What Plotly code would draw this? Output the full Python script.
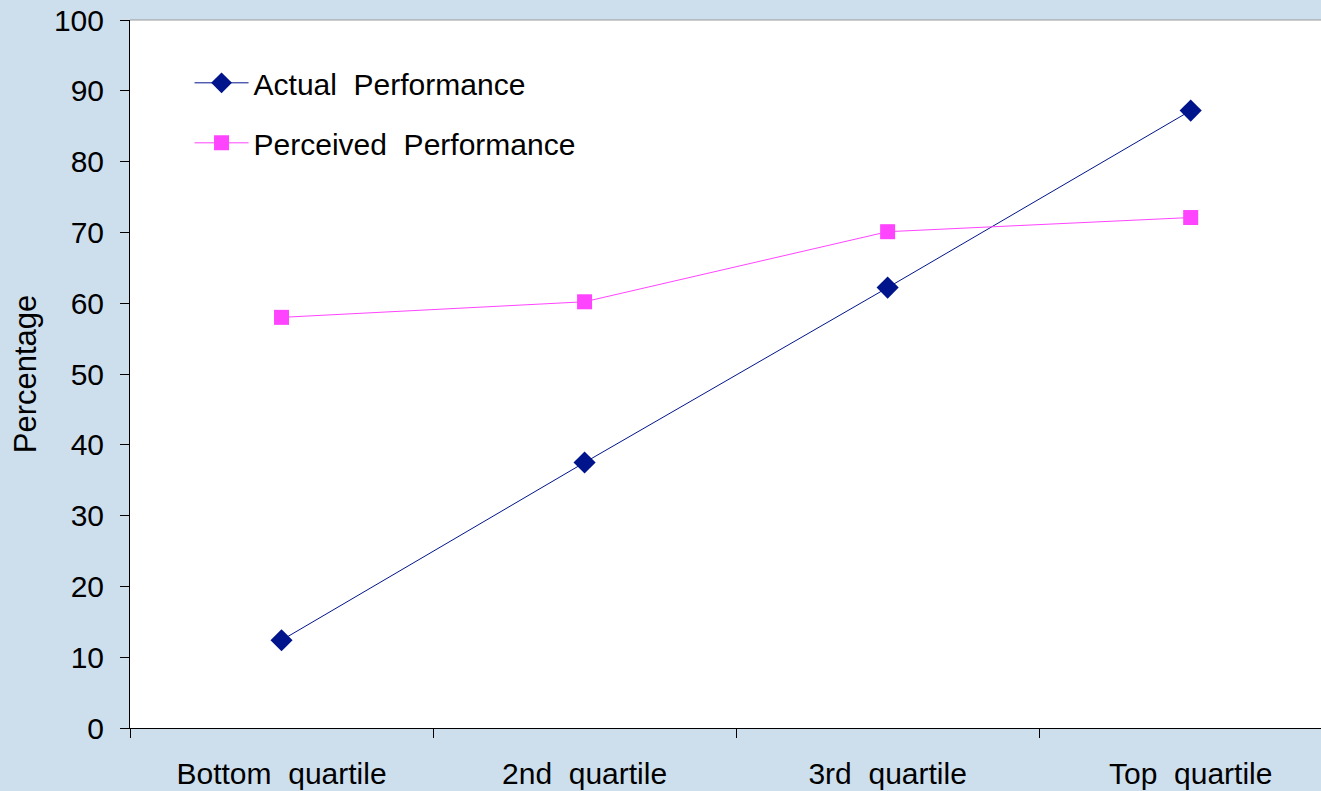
import plotly.graph_objects as go

quartiles = ["Bottom  quartile", "2nd  quartile", "3rd  quartile", "Top  quartile"]
actual_performance = [12.4, 37.5, 62.2, 87.2]
perceived_performance = [58.0, 60.2, 70.1, 72.1]
y_ticks = [0, 10, 20, 30, 40, 50, 60, 70, 80, 90, 100]

FONT = "Liberation Sans, Arial, sans-serif"
NAVY = "#00148c"
MAGENTA = "#ff44ff"

fig = go.Figure()
fig.add_trace(go.Scatter(
    x=quartiles, y=actual_performance, name="Actual  Performance",
    mode="lines+markers", legendgroup="a",
    line=dict(color=NAVY, width=1),
    marker=dict(symbol="diamond", size=17, color=NAVY),
))
fig.add_trace(go.Scatter(
    x=quartiles, y=perceived_performance, name="Perceived  Performance",
    mode="lines+markers", legendgroup="p",
    line=dict(color=MAGENTA, width=1),
    marker=dict(symbol="square", size=15, color=MAGENTA),
))

fig.update_layout(
    width=1321, height=791,
    margin=dict(l=130, r=0, t=20, b=63),
    paper_bgcolor="#cddfed",
    plot_bgcolor="#ffffff",
    font=dict(family=FONT, size=30, color="#000000"),
    showlegend=True,
    legend=dict(
        x=0.050, y=0.948, xanchor="left", yanchor="top",
        bgcolor="rgba(0,0,0,0)", font=dict(size=30),
        tracegroupgap=18, traceorder="grouped", itemwidth=54,
    ),
    xaxis=dict(
        type="category", range=[-0.5, 3.43], tickson="boundaries",
        showline=True, linecolor="#000000", linewidth=1,
        ticks="outside", ticklen=9, tickcolor="#000000",
        showgrid=False, zeroline=False, ticklabelstandoff=19,
    ),
    yaxis=dict(
        range=[0, 100], tickvals=y_ticks,
        showline=True, linecolor="#000000", linewidth=1,
        ticks="outside", ticklen=9, tickcolor="#000000",
        showgrid=False, zeroline=False, ticklabelstandoff=10,
        title=dict(text="Percentage", standoff=8, font=dict(size=31)),
    ),
    shapes=[dict(type="line", xref="paper", yref="paper", x0=0, x1=1, y0=1, y1=1,
                 line=dict(color="#999999", width=1))],
)

fig.write_html("out.html")
